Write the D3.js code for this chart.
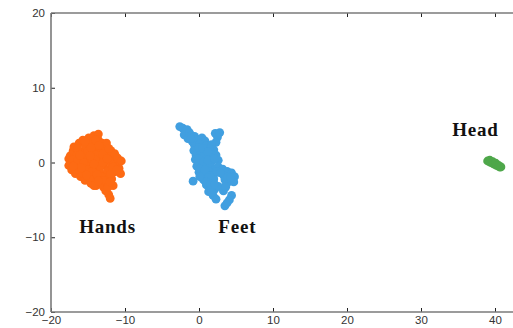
<!DOCTYPE html>
<html><head><meta charset="utf-8">
<script src="https://cdn.jsdelivr.net/npm/d3@7"></script>
<style>body{margin:0;background:#fff}svg{display:block}</style>
</head><body><svg id="c" width="513" height="328"></svg>
<script>
const xTicks = [-20, -10, 0, 10, 20, 30, 40];
const yTicks = [-20, -10, 0, 10, 20];
const hands = [[-17.6,0.5],[-17.6,-0.4],[-17.4,0.9],[-17.2,-1.0],[-17.0,1.6],[-16.9,2.1],[-16.8,0.0],[-16.7,-1.5],[-16.5,1.0],[-16.3,-0.6],[-16.2,2.6],[-16.0,-1.9],[-15.9,0.4],[-15.8,1.5],[-15.7,3.0],[-15.6,-1.1],[-15.4,-2.4],[-15.3,2.3],[-15.2,0.9],[-15.1,-0.2],[-14.9,3.3],[-14.8,1.7],[-14.7,-1.5],[-14.6,-2.8],[-14.5,0.4],[-14.4,2.7],[-14.3,-0.7],[-14.2,3.6],[-14.1,1.2],[-14.0,-2.2],[-13.9,-3.1],[-13.8,2.1],[-13.7,0.0],[-13.6,3.8],[-13.6,3.0],[-13.5,-1.2],[-13.4,1.6],[-13.3,-2.6],[-13.2,0.7],[-13.1,2.6],[-13.0,-0.4],[-12.9,-3.3],[-12.8,1.9],[-12.7,-1.8],[-12.6,0.2],[-12.5,2.6],[-12.4,-2.8],[-12.3,1.1],[-12.2,-4.3],[-12.1,-0.9],[-12.0,-4.8],[-11.9,1.6],[-11.8,-2.2],[-11.7,0.4],[-11.5,-1.3],[-11.4,1.2],[-11.2,-0.2],[-11.0,0.6],[-10.8,-0.8],[-10.6,-1.5],[-10.5,0.2],[-11.6,-3.1],[-12.6,-3.8],[-14.8,-2.0],[-16.0,-1.3],[-13.9,1.0],[-15.5,1.2],[-13.0,1.2],[-12.0,0.0],[-16.6,-0.9],[-14.0,3.0],[-17.0,0.4],[-16.4,0.2],[-16.4,1.8],[-15.6,0.0],[-15.0,-1.0],[-15.0,1.6],[-14.4,-1.2],[-14.6,2.0],[-14.0,0.3],[-13.4,-0.5],[-13.0,0.0],[-12.4,-1.2],[-12.4,0.5],[-11.9,-1.5],[-13.2,-1.9],[-13.8,-1.6],[-14.2,-0.2],[-15.9,-0.7],[-17.0,-0.5],[-12.9,-2.4],[-12.3,-3.3],[-13.5,2.3],[-12.2,1.9],[-11.6,-0.6],[-14.7,0.9],[-16.1,1.0],[-15.4,2.8],[-14.2,-3.1],[-11.1,-1.0],[-15.2,-1.7],[-13.6,-2.5],[-12.0,-2.6]];
const feet = [[-2.6,4.8],[-2.2,4.6],[-1.9,4.2],[-1.6,4.4],[-2.0,3.7],[-1.3,4.0],[-1.0,3.6],[-1.5,3.2],[-0.6,3.5],[-0.9,2.8],[-0.2,3.1],[0.4,3.3],[0.8,2.9],[-0.6,2.3],[0.1,2.5],[0.9,2.2],[2.2,3.9],[2.8,4.0],[2.5,3.4],[2.3,2.7],[1.7,2.4],[2.0,1.7],[1.4,1.8],[-0.7,1.6],[-0.4,1.0],[0.3,1.5],[0.9,1.1],[1.6,0.8],[2.3,1.0],[-0.5,0.4],[0.2,0.2],[0.9,0.4],[1.7,0.1],[2.6,0.3],[-0.3,-0.5],[0.4,-0.7],[1.1,-0.4],[1.8,-0.8],[2.6,-0.6],[3.2,-0.9],[0.0,-1.3],[0.7,-1.5],[1.3,-1.2],[2.0,-1.6],[3.8,-1.2],[4.4,-1.4],[4.8,-1.9],[3.4,-1.8],[4.2,-2.5],[4.7,-2.6],[3.7,-2.9],[-0.8,-2.5],[0.6,-2.3],[1.3,-2.4],[2.0,-2.2],[1.0,-3.0],[1.6,-3.4],[1.3,-3.9],[2.1,-3.6],[2.6,-3.2],[1.9,-4.4],[2.3,-4.9],[3.3,-3.8],[4.4,-4.4],[4.1,-5.0],[3.5,-5.8],[3.8,-5.4],[0.3,0.9],[1.4,-0.1],[3.5,-2.3],[-1.1,3.2],[0.0,2.0],[0.5,1.9],[1.2,1.4],[-0.1,0.5],[0.6,0.0],[1.2,0.3],[2.1,0.5],[0.1,-0.9],[0.8,-1.0],[1.5,-1.8],[2.4,-1.2],[2.9,-1.4],[3.9,-1.9],[4.3,-2.0],[1.2,-2.0],[0.9,-2.6],[1.6,-2.9],[2.1,-2.9],[3.6,-3.3],[1.7,-4.0],[0.1,-1.9]];
const head = [[39.0,0.2],[39.3,0.3],[39.4,0.0],[39.7,0.1],[39.8,-0.2],[40.1,-0.1],[40.2,-0.4],[40.5,-0.4],[40.6,-0.6],[40.8,-0.6]];
const seriesNames = ["Hands", "Feet", "Head"];
const seriesColors = ["#fd6a13", "#419fe0", "#4ea74a"];
const labelX = [-12.36, 5.18, 37.36];
const labelY = [-9.43, -9.43, 3.59];

const svg = d3.select("#c");
const x = d3.scaleLinear().domain([-20, 42.5]).range([51, 513.5]);
const y = d3.scaleLinear().domain([-20, 20]).range([312, 13]);

[hands, feet, head].forEach((pts, i) => {
  svg.append("g").selectAll("circle").data(pts).join("circle")
    .attr("cx", d => x(d[0])).attr("cy", d => y(d[1])).attr("r", 4.4)
    .attr("fill", seriesColors[i]);
});

const fmt = d => d < 0 ? "\u2212" + Math.abs(d) : String(d);
const styleAxis = g => {
  g.selectAll(".domain").remove();
  g.selectAll(".tick line").attr("stroke", "#222").attr("stroke-width", 1);
  g.selectAll(".tick text").attr("fill", "#333").style("font-family", "Liberation Sans, Arial, sans-serif").style("font-size", "11.5px");
};
svg.append("g").attr("transform", `translate(0,${y(-20)})`)
  .call(d3.axisBottom(x).tickValues(xTicks).tickFormat(fmt).tickSizeInner(-4).tickSizeOuter(0).tickPadding(4))
  .call(styleAxis);
svg.append("g").attr("transform", `translate(0,${y(20)})`)
  .call(d3.axisTop(x).tickValues(xTicks).tickFormat("").tickSizeInner(-4).tickSizeOuter(0))
  .call(styleAxis);
svg.append("g").attr("transform", `translate(${x(-20)},0)`)
  .call(d3.axisLeft(y).tickValues(yTicks).tickFormat(fmt).tickSizeInner(-4).tickSizeOuter(0).tickPadding(6))
  .call(styleAxis);

const frame = svg.append("g").attr("stroke", "#7a7a7a").attr("stroke-width", 1.6).attr("fill", "none");
frame.append("line").attr("x1", x(-20)).attr("x2", 513).attr("y1", y(20)).attr("y2", y(20));
frame.append("line").attr("x1", x(-20)).attr("x2", 513).attr("y1", y(-20)).attr("y2", y(-20));
frame.append("line").attr("x1", x(-20)).attr("x2", x(-20)).attr("y1", y(20)).attr("y2", y(-20));

svg.append("g").selectAll("text").data(seriesNames).join("text")
  .attr("x", (d, i) => x(labelX[i])).attr("y", (d, i) => y(labelY[i]))
  .attr("text-anchor", "middle")
  .style("font-family", "Liberation Serif, Times New Roman, serif")
  .style("font-weight", "bold").style("font-size", "19px").style("letter-spacing", "0.8px")
  .attr("fill", "#111")
  .text(d => d);
</script></body></html>
